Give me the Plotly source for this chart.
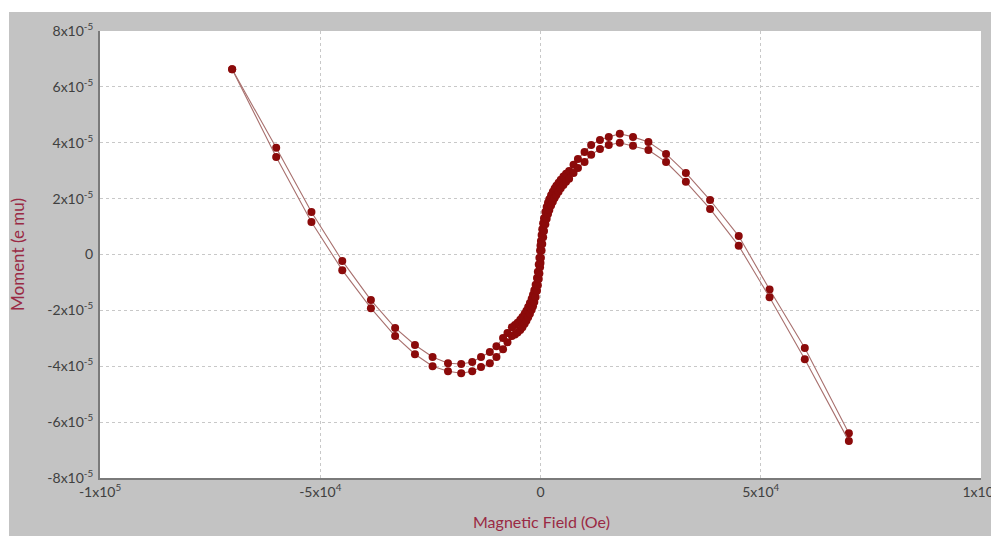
import numpy as np
import plotly.graph_objects as go

# Applied field sweep from +70 kOe down to -70 kOe (Oe)
field_sweep_oe = [
    70000, 60000, 52000, 45000, 38500, 33000, 28500, 24500, 21000, 18000,
    15500, 13500, 11500, 10000, 8500, 7500, 6500, 5800, 5200, 4600,
    4100, 3600, 3200, 2800, 2400, 2000, 1700, 1400, 1100, 800,
    600, 400, 250, 100, 0, -100, -250, -400, -600, -800,
    -1100, -1400, -1700, -2000, -2400, -2800, -3200, -3600, -4100, -4600,
    -5200, -5800, -6500, -7500, -8500, -10000, -11500, -13500, -15500, -18000,
    -21000, -24500, -28500, -33000, -38500, -45000, -52000, -60000, -70000,
]

# Moment on the descending branch (units of 1e-5 emu), same order as field_sweep_oe
moment_down_e5 = [
    -6.40, -3.35, -1.25, 0.66, 1.95, 2.92, 3.60, 4.03, 4.21, 4.32,
    4.21, 4.10, 3.92, 3.67, 3.42, 3.21, 2.99, 2.89, 2.79, 2.68,
    2.57, 2.46, 2.36, 2.25, 2.12, 1.98, 1.85, 1.70, 1.52, 1.30,
    1.12, 0.90, 0.70, 0.48, 0.32, 0.14, -0.12, -0.36, -0.62, -0.84,
    -1.08, -1.28, -1.44, -1.58, -1.74, -1.88, -2.01, -2.12, -2.24, -2.34,
    -2.44, -2.52, -2.60, -2.81, -2.99, -3.28, -3.49, -3.67, -3.85, -3.92,
    -3.89, -3.67, -3.24, -2.63, -1.63, -0.23, 1.52, 3.82, 6.63,
]

# Moment on the ascending branch (units of 1e-5 emu), same order as field_sweep_oe
moment_up_e5 = [
    -6.68, -3.75, -1.53, 0.31, 1.63, 2.60, 3.31, 3.74, 3.89, 4.00,
    3.92, 3.78, 3.57, 3.31, 3.10, 2.92, 2.71, 2.60, 2.49, 2.37,
    2.25, 2.13, 2.02, 1.89, 1.75, 1.59, 1.45, 1.28, 1.08, 0.84,
    0.62, 0.38, 0.14, -0.12, -0.30, -0.46, -0.68, -0.88, -1.10, -1.30,
    -1.52, -1.70, -1.85, -1.98, -2.12, -2.25, -2.37, -2.48, -2.60, -2.70,
    -2.79, -2.86, -2.92, -3.14, -3.39, -3.67, -3.89, -4.03, -4.18, -4.25,
    -4.18, -4.00, -3.57, -2.92, -1.92, -0.56, 1.16, 3.49, 6.63,
]

x_tick_vals = [-100000, -50000, 0, 50000, 100000]
x_tick_text = ["-1x10<sup>5</sup>", "-5x10<sup>4</sup>", "0", "5x10<sup>4</sup>", "1x10<sup>5</sup>"]
y_tick_vals = [8e-5, 6e-5, 4e-5, 2e-5, 0, -2e-5, -4e-5, -6e-5, -8e-5]
y_tick_text = ["8x10<sup>-5</sup>", "6x10<sup>-5</sup>", "4x10<sup>-5</sup>", "2x10<sup>-5</sup>", "0",
               "-2x10<sup>-5</sup>", "-4x10<sup>-5</sup>", "-6x10<sup>-5</sup>", "-8x10<sup>-5</sup>"]

field = np.array(field_sweep_oe, dtype=float)
m_down = np.array(moment_down_e5) * 1e-5
m_up = np.array(moment_up_e5) * 1e-5

W, H = 991, 536
L, R, T, B = 100, 10, 31, 58
plot_w = W - L - R
plot_h = H - T - B

MARKER = "#8b0a0a"
LINE = "#a8706e"

fig = go.Figure()
# Descending sweep (+H -> -H)
fig.add_trace(go.Scatter(
    x=field, y=m_down, mode="lines+markers",
    line=dict(color=LINE, width=1.1),
    marker=dict(color=MARKER, size=8, line=dict(width=0)),
    showlegend=False,
))
# Ascending sweep (-H -> +H)
fig.add_trace(go.Scatter(
    x=field[::-1], y=m_up[::-1], mode="lines+markers",
    line=dict(color=LINE, width=1.1),
    marker=dict(color=MARKER, size=8, line=dict(width=0)),
    showlegend=False,
))


def px_x(p):
    return (p - L) / plot_w


def px_y(p):
    return (H - B - p) / plot_h


# white border strips on top and left of the grey frame
shapes = [
    dict(type="rect", xref="paper", yref="paper", x0=px_x(0), x1=px_x(W + 5),
         y0=px_y(12), y1=px_y(-5), fillcolor="white", line=dict(width=0), layer="below"),
    dict(type="rect", xref="paper", yref="paper", x0=px_x(-5), x1=px_x(9),
         y0=px_y(H + 5), y1=px_y(-5), fillcolor="white", line=dict(width=0), layer="below"),
]

title_color = "#9a2a44"
font_family = "Lato, Liberation Sans, sans-serif"
tick_font = dict(family=font_family, size=14, color="#404040")

fig.update_layout(
    width=W, height=H,
    margin=dict(l=L, r=R, t=T, b=B, pad=0, autoexpand=False),
    paper_bgcolor="#c3c3c3",
    plot_bgcolor="white",
    shapes=shapes,
    annotations=[
        dict(text="Moment (e mu)", xref="paper", yref="paper", x=px_x(17), y=px_y(255),
             showarrow=False, textangle=-90, xanchor="center", yanchor="middle",
             font=dict(family=font_family, size=17, color=title_color)),
        dict(text="Magnetic Field (Oe)", xref="paper", yref="paper", x=px_x(541), y=px_y(521),
             showarrow=False, xanchor="center", yanchor="middle",
             font=dict(family=font_family, size=16, color=title_color)),
    ],
    xaxis=dict(
        range=[-100000, 100000], tickvals=x_tick_vals, ticktext=x_tick_text,
        showgrid=True, gridcolor="#c8c8c8", griddash="dot", gridwidth=1,
        zeroline=False, showline=True, linecolor="#7a7a7a", linewidth=2,
        ticks="", tickfont=tick_font, ticklabeloverflow="allow",
        automargin=False, fixedrange=True,
    ),
    yaxis=dict(
        range=[-8e-5, 8e-5], tickvals=y_tick_vals, ticktext=y_tick_text,
        showgrid=True, gridcolor="#c8c8c8", griddash="dot", gridwidth=1,
        zeroline=False, showline=True, linecolor="#7a7a7a", linewidth=2,
        ticks="", tickfont=tick_font, ticklabelstandoff=2,
        automargin=False, fixedrange=True,
    ),
)

fig.write_html("out.html")
